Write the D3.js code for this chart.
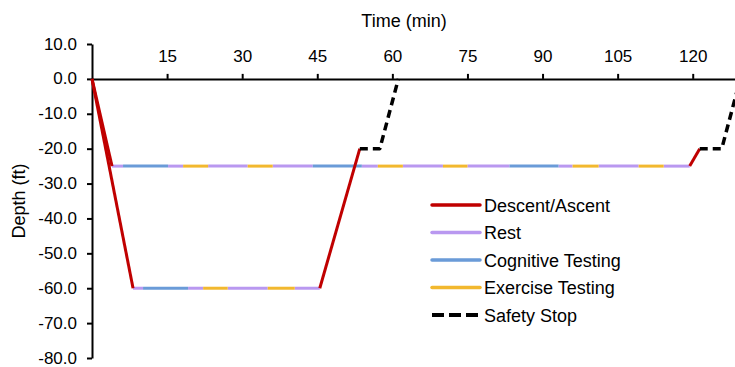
<!DOCTYPE html>
<html>
<head>
<meta charset="utf-8">
<script src="https://cdn.jsdelivr.net/npm/d3@7"></script>
<style>
  body { margin: 0; background: #fff; }
  svg text { font-family: Arial, "Liberation Sans", sans-serif; fill: #000; }
</style>
</head>
<body>
<script>
// phases, in legend order
var phaseNames = ['Descent/Ascent', 'Rest', 'Cognitive Testing', 'Exercise Testing', 'Safety Stop']
var phaseColors = ['#c00000', '#b998f0', '#6a9bd8', '#f2b82e', '#000000']

// x tick labels (min) and y tick labels (ft)
var timeTicks = [15, 30, 45, 60, 75, 90, 105, 120]
var depthTicks = [10, 0, -10, -20, -30, -40, -50, -60, -70, -80]

// 25 ft dive: breakpoints, depth at each breakpoint, phase index of each segment
var shallowTimes = [0, 4.0, 6.2, 15.2, 18.2, 23.2, 31.1, 36.1, 44.1, 53.9, 57.1, 62.1, 70.1, 75, 83.4, 93.2, 96, 101.2, 109.2, 114.2, 119.4, 121.4, 125.8, 129.5]
var shallowDepths = [0, -25, -25, -25, -25, -25, -25, -25, -25, -25, -25, -25, -25, -25, -25, -25, -25, -25, -25, -25, -25, -20, -20, 0]
var shallowPhases = [0, 1, 2, 1, 3, 1, 3, 1, 2, 1, 3, 1, 3, 1, 2, 1, 3, 1, 3, 1, 0, 4, 4]

// 60 ft dive
var deepTimes = [0, 8.2, 10.2, 19.2, 22.2, 27.1, 35.1, 40.5, 45.5, 53.5, 57.5, 61.2]
var deepDepths = [0, -60, -60, -60, -60, -60, -60, -60, -60, -20, -20, 0]
var deepPhases = [0, 1, 2, 1, 3, 1, 3, 1, 0, 4, 4]

var width = 735, height = 367

var svg = d3.select('body')
            .append('svg')
            .attr('width', width)
            .attr('height', height)

var x = d3.scaleLinear().domain([0, 130]).range([92, 92 + 5.006 * 130])
var y = d3.scaleLinear().domain([10, -80]).range([44, 358])

// turn a profile into runs of consecutive segments with the same phase
function runs(times, depths, phases){
  var out = []
  phases.forEach(function(p, i){
    var last = out[out.length - 1]
    if(last && last.phase == p){
      last.pts.push([times[i + 1], depths[i + 1]])
    }else{
      out.push({phase: p, pts: [[times[i], depths[i]], [times[i + 1], depths[i + 1]]]})
    }
  })
  return out
}

var allRuns = runs(shallowTimes, shallowDepths, shallowPhases)
                .concat(runs(deepTimes, deepDepths, deepPhases))

var line = d3.line()
             .x(function(d){ return x(d[0]) })
             .y(function(d){ return y(d[1]) })

// axes
var xAxis = svg.append('g')
               .attr('transform', 'translate(0,' + y(0) + ')')
               .call(d3.axisTop(x).tickValues(timeTicks).tickSize(5).tickSizeOuter(0).tickPadding(12))
var yAxis = svg.append('g')
               .attr('transform', 'translate(' + x(0) + ',0)')
               .call(d3.axisLeft(y).tickValues(depthTicks).tickSize(5).tickSizeOuter(0).tickPadding(10)
                 .tickFormat(function(d){ return d.toFixed(1) }))

svg.selectAll('.domain, .tick line')
   .attr('stroke', '#000')
   .attr('stroke-width', 2)
svg.selectAll('.tick text')
   .attr('font-size', 17)
   .attr('font-family', 'Arial, "Liberation Sans", sans-serif')
   .attr('fill', '#000')
yAxis.selectAll('.tick text').attr('dy', '0.3em')

// activity lines under the red and dashed ones
var order = [1, 2, 3, 0, 4]
order.forEach(function(p){
  svg.selectAll(null)
     .data(allRuns.filter(function(r){ return r.phase == p }))
     .enter()
     .append('path')
     .attr('d', function(d){ return line(d.pts) })
     .attr('fill', 'none')
     .attr('stroke', phaseColors[p])
     .attr('stroke-width', p == 4 ? 3.5 : 3)
     .attr('stroke-dasharray', p == 4 ? '8,5' : null)
     .attr('stroke-linejoin', 'round')
})

// titles
svg.append('text')
   .text('Time (min)')
   .attr('x', 404)
   .attr('y', 27)
   .attr('text-anchor', 'middle')
   .attr('font-size', 18)

svg.append('text')
   .text('Depth (ft)')
   .attr('transform', 'translate(25,201) rotate(-90)')
   .attr('text-anchor', 'middle')
   .attr('font-size', 18)

// legend
var legend = svg.selectAll('.legend')
                .data(phaseNames)
                .enter()
                .append('g')
                .attr('transform', function(d, i){ return 'translate(432,' + (205 + i * 27.5) + ')' })

legend.append('line')
      .attr('x1', 0)
      .attr('x2', function(d, i){ return i == 4 ? 46 : 48 })
      .attr('stroke', function(d, i){ return phaseColors[i] })
      .attr('stroke-width', function(d, i){ return i == 4 ? 4 : 3.5 })
      .attr('stroke-dasharray', function(d, i){ return i == 4 ? '12,5' : null })
      .attr('stroke-linecap', function(d, i){ return i == 4 ? 'butt' : 'round' })

legend.append('text')
      .text(function(d){ return d })
      .attr('x', 52)
      .attr('y', 6.5)
      .attr('font-size', 18)
</script>
</body>
</html>
